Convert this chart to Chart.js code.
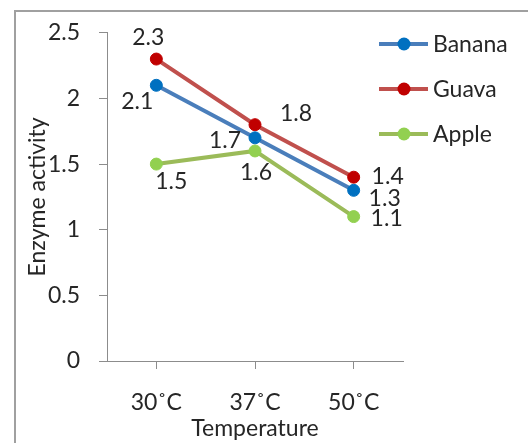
<!DOCTYPE html>
<html>
<head>
<meta charset="utf-8">
<script src="https://cdn.jsdelivr.net/npm/chart.js@4.4.0/dist/chart.umd.min.js"></script>
<style>
  html, body { margin: 0; padding: 0; background: #fff; }
  #wrap { width: 528px; height: 443px; position: relative; }
</style>
</head>
<body>
<div id="wrap"><canvas id="enzymeChart" width="528" height="443"></canvas></div>
<script>
// data
const temperatures = ["30\u02DAC", "37\u02DAC", "50\u02DAC"];
const banana = [2.1, 1.7, 1.3];
const guava = [2.3, 1.8, 1.4];
const apple = [1.5, 1.6, 1.1];
const yTicks = [0, 0.5, 1, 1.5, 2, 2.5];

const FONT = "Lato, 'Open Sans', sans-serif";
const SIZE = 23;

// where each value label sits relative to its point (dx, dy)
const labelOffsets = [
    [[-19, 16], [-30, 3], [31, 8]],    // Banana
    [[-8, -21], [41, -11], [34, -1]],  // Guava
    [[15, 17], [1, 22], [33, 2]]       // Apple
];

// grey frame around the figure
const framePlugin = {
    id: "frame",
    beforeDraw(chart) {
        const ctx = chart.ctx;
        ctx.save();
        ctx.strokeStyle = "#a0a0a0";
        ctx.lineWidth = 2;
        ctx.strokeRect(15, 11, 600, 500);
        ctx.restore();
    }
};

// value labels next to the points
const valueLabels = {
    id: "valueLabels",
    afterDatasetsDraw(chart) {
        const ctx = chart.ctx;
        ctx.save();
        ctx.font = SIZE + "px " + FONT;
        ctx.fillStyle = "#262626";
        ctx.textAlign = "center";
        ctx.textBaseline = "middle";
        chart.data.datasets.forEach((ds, i) => {
            chart.getDatasetMeta(i).data.forEach((pt, j) => {
                const off = labelOffsets[i][j];
                ctx.fillText(ds.data[j].toFixed(1), pt.x + off[0], pt.y + off[1]);
            });
        });
        ctx.restore();
    }
};

// legend: line with a dot, then the name
const lineLegend = {
    id: "lineLegend",
    afterDraw(chart) {
        const ctx = chart.ctx;
        ctx.save();
        ctx.font = SIZE + "px " + FONT;
        ctx.textBaseline = "middle";
        chart.data.datasets.forEach((ds, i) => {
            const y = 44 + i * 45;
            ctx.strokeStyle = ds.borderColor;
            ctx.lineWidth = 4;
            ctx.beginPath();
            ctx.moveTo(379, y);
            ctx.lineTo(428, y);
            ctx.stroke();
            ctx.fillStyle = ds.pointBackgroundColor;
            ctx.beginPath();
            ctx.arc(404, y, 6.5, 0, Math.PI * 2);
            ctx.fill();
            ctx.fillStyle = "#262626";
            ctx.fillText(ds.label, 433, y + 1);
        });
        ctx.restore();
    }
};

function series(label, data, line, dot) {
    return {
        label: label,
        data: data,
        borderColor: line,
        backgroundColor: dot,
        pointBackgroundColor: dot,
        pointBorderColor: dot,
        pointBorderWidth: 1,
        pointRadius: 6,
        borderWidth: 4,
        tension: 0
    };
}

const ctx = document.getElementById("enzymeChart").getContext("2d");

new Chart(ctx, {
    type: "line",
    data: {
        labels: temperatures,
        datasets: [
            series("Banana", banana, "#4a7ebb", "#0070c0"),
            series("Guava", guava, "#c0504d", "#c00000"),
            series("Apple", apple, "#9bbb59", "#92d050")
        ]
    },
    options: {
        responsive: false,
        animation: false,
        layout: { padding: { left: 14, top: 32, right: 125, bottom: 0 } },
        plugins: {
            legend: { display: false },
            tooltip: { enabled: false }
        },
        scales: {
            x: {
                offset: true,
                grid: { drawOnChartArea: false, drawTicks: true, tickLength: 8, color: "#8c8c8c" },
                border: { color: "#8c8c8c" },
                ticks: { color: "#262626", font: { family: FONT, size: SIZE }, padding: 20 },
                title: {
                    display: true, text: "Temperature", color: "#262626",
                    font: { family: FONT, size: SIZE }, padding: { top: 0, bottom: 1 }
                },
                afterFit(scale) { scale.height = 82; }
            },
            y: {
                min: 0,
                max: 2.5,
                afterBuildTicks(scale) { scale.ticks = yTicks.map(v => ({ value: v })); },
                grid: { drawOnChartArea: false, drawTicks: true, tickLength: 8, color: "#8c8c8c" },
                border: { color: "#8c8c8c" },
                ticks: {
                    color: "#262626", font: { family: FONT, size: SIZE }, padding: 19,
                    callback: v => String(v)
                },
                title: {
                    display: true, text: "Enzyme activity", color: "#262626",
                    font: { family: FONT, size: SIZE }, padding: { top: 10, bottom: 0 }
                },
                afterFit(scale) { scale.width = 93; }
            }
        }
    },
    plugins: [framePlugin, valueLabels, lineLegend]
});
</script>
</body>
</html>
